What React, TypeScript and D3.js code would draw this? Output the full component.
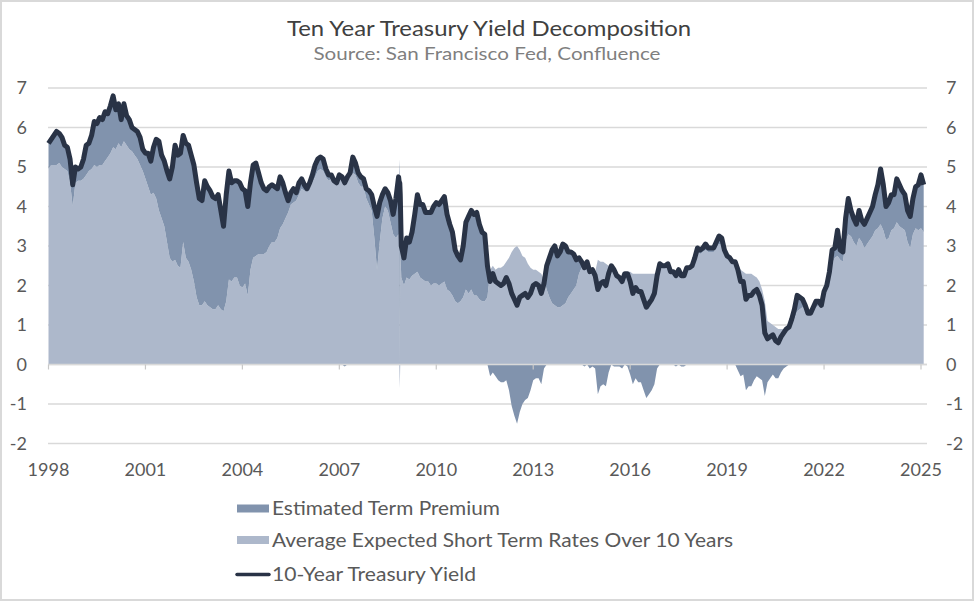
import React, { useRef, useEffect } from "react";
import * as d3 from "d3";

// monthly observations, first one is Jan 1998
const startYear = 1998;

const tenYearYield = [
  5.6, 5.7, 5.8, 5.9, 5.85, 5.75, 5.55, 5.5, 5.2, 4.55, 5.0, 4.95, // 1998
  5.0, 5.2, 5.55, 5.6, 5.8, 6.15, 6.1, 6.25, 6.2, 6.4, 6.35, 6.55, // 1999
  6.8, 6.45, 6.6, 6.2, 6.6, 6.3, 6.2, 6.0, 5.95, 5.9, 5.75, 5.45, // 2000
  5.35, 5.35, 5.15, 5.5, 5.7, 5.65, 5.3, 5.15, 4.9, 4.7, 5.0, 5.55, // 2001
  5.3, 5.35, 5.8, 5.6, 5.55, 5.3, 5.05, 4.6, 4.2, 4.15, 4.65, 4.5, // 2002
  4.4, 4.25, 4.2, 4.3, 3.9, 3.5, 4.3, 4.9, 4.6, 4.65, 4.65, 4.6, // 2003
  4.45, 4.4, 4.0, 4.6, 5.05, 5.1, 4.85, 4.6, 4.45, 4.4, 4.5, 4.55, // 2004
  4.5, 4.45, 4.75, 4.6, 4.35, 4.15, 4.35, 4.45, 4.35, 4.6, 4.7, 4.55, // 2005
  4.45, 4.6, 4.8, 5.05, 5.2, 5.25, 5.2, 4.95, 4.8, 4.8, 4.65, 4.6, // 2006
  4.8, 4.75, 4.6, 4.75, 4.85, 5.25, 5.1, 4.85, 4.75, 4.7, 4.45, 4.4, // 2007
  4.3, 4.0, 3.75, 4.1, 4.3, 4.45, 4.35, 4.15, 3.8, 4.2, 4.75, 3.0, // 2008
  2.7, 3.2, 3.1, 3.35, 3.8, 4.3, 4.05, 4.05, 3.85, 3.85, 3.85, 4.0, // 2009
  4.1, 4.05, 4.15, 4.25, 3.8, 3.55, 3.35, 2.9, 2.75, 2.65, 3.0, 3.6, // 2010
  3.75, 3.9, 3.8, 3.85, 3.55, 3.35, 3.3, 2.5, 2.1, 2.3, 2.1, 2.05, // 2011
  2.0, 2.05, 2.2, 2.05, 1.8, 1.65, 1.5, 1.7, 1.75, 1.8, 1.7, 1.8, // 2012
  2.0, 2.05, 2.0, 1.8, 2.05, 2.5, 2.7, 2.9, 3.0, 2.75, 2.85, 3.05, // 2013
  3.0, 2.85, 2.85, 2.8, 2.65, 2.7, 2.6, 2.45, 2.6, 2.35, 2.4, 2.25, // 2014
  1.9, 2.05, 2.1, 2.0, 2.3, 2.5, 2.4, 2.25, 2.2, 2.1, 2.3, 2.3, // 2015
  2.1, 1.8, 1.95, 1.85, 1.85, 1.65, 1.45, 1.55, 1.65, 1.8, 2.25, 2.55, // 2016
  2.5, 2.5, 2.55, 2.35, 2.35, 2.25, 2.4, 2.25, 2.25, 2.45, 2.45, 2.5, // 2017
  2.7, 2.95, 2.9, 2.95, 3.05, 2.95, 2.95, 2.95, 3.1, 3.25, 3.2, 2.9, // 2018
  2.75, 2.7, 2.6, 2.6, 2.4, 2.1, 2.1, 1.65, 1.75, 1.75, 1.85, 1.9, // 2019
  1.75, 1.5, 0.8, 0.65, 0.7, 0.75, 0.6, 0.55, 0.7, 0.8, 0.9, 0.95, // 2020
  1.15, 1.4, 1.75, 1.7, 1.65, 1.5, 1.3, 1.3, 1.45, 1.6, 1.6, 1.5, // 2021
  1.85, 2.0, 2.35, 2.9, 2.95, 3.4, 2.9, 2.85, 3.7, 4.2, 3.9, 3.7, // 2022
  3.55, 3.9, 3.65, 3.55, 3.7, 3.85, 4.0, 4.3, 4.55, 4.95, 4.55, 4.0, // 2023
  4.1, 4.3, 4.3, 4.7, 4.55, 4.4, 4.3, 3.9, 3.75, 4.2, 4.5, 4.55, // 2024
  4.8, 4.55, // 2025
];

const expectedShortRate = [
  4.95, 5.05, 5.05, 5.05, 5.1, 5.0, 4.95, 4.9, 4.6, 4.0, 4.6, 4.65, // 1998
  4.65, 4.7, 4.8, 4.9, 4.95, 5.05, 5.0, 5.05, 5.05, 5.15, 5.25, 5.35, // 1999
  5.5, 5.45, 5.6, 5.5, 5.65, 5.55, 5.45, 5.4, 5.3, 5.2, 5.05, 4.9, // 2000
  4.7, 4.5, 4.3, 4.35, 4.2, 3.9, 3.7, 3.5, 3.1, 2.7, 2.6, 2.65, // 2001
  2.5, 2.45, 3.1, 2.7, 2.6, 2.4, 2.1, 1.7, 1.5, 1.5, 1.6, 1.5, // 2002
  1.45, 1.4, 1.4, 1.5, 1.4, 1.35, 1.6, 2.15, 2.1, 2.2, 2.2, 2.0, // 2003
  1.95, 2.05, 1.75, 2.4, 2.7, 2.75, 2.8, 2.8, 2.8, 2.85, 3.0, 3.1, // 2004
  3.1, 3.2, 3.45, 3.55, 3.7, 3.85, 4.05, 4.1, 4.15, 4.3, 4.45, 4.4, // 2005
  4.4, 4.5, 4.6, 4.75, 4.9, 4.95, 4.9, 4.75, 4.65, 4.7, 4.6, 4.55, // 2006
  4.75, 4.7, 4.65, 4.7, 4.75, 4.85, 4.8, 4.6, 4.5, 4.5, 4.2, 4.05, // 2007
  3.9, 3.2, 2.4, 3.1, 3.7, 4.0, 3.9, 3.6, 3.3, 3.2, 3.3, 2.2, // 2008
  2.0, 2.2, 2.15, 2.25, 2.3, 2.35, 2.2, 2.15, 2.1, 2.1, 2.0, 2.05, // 2009
  2.05, 2.0, 2.05, 2.1, 1.9, 1.85, 1.75, 1.6, 1.55, 1.6, 1.7, 1.9, // 2010
  1.8, 1.9, 1.75, 1.75, 1.65, 1.6, 1.6, 1.7, 2.4, 2.5, 2.4, 2.45, // 2011
  2.45, 2.5, 2.6, 2.7, 2.85, 2.95, 3.0, 2.9, 2.75, 2.7, 2.55, 2.45, // 2012
  2.4, 2.4, 2.35, 2.3, 2.15, 1.9, 1.7, 1.55, 1.5, 1.45, 1.45, 1.5, // 2013
  1.55, 1.7, 1.8, 1.9, 2.0, 2.3, 2.45, 2.5, 2.55, 2.45, 2.45, 2.35, // 2014
  2.65, 2.6, 2.6, 2.55, 2.5, 2.45, 2.45, 2.3, 2.25, 2.2, 2.3, 2.35, // 2015
  2.35, 2.3, 2.3, 2.3, 2.3, 2.3, 2.3, 2.3, 2.3, 2.3, 2.35, 2.5, // 2016
  2.45, 2.45, 2.5, 2.35, 2.35, 2.3, 2.35, 2.3, 2.3, 2.4, 2.4, 2.45, // 2017
  2.6, 2.85, 2.8, 2.85, 2.9, 2.85, 2.85, 2.85, 2.95, 3.05, 3.05, 2.8, // 2018
  2.7, 2.65, 2.6, 2.6, 2.55, 2.4, 2.35, 2.3, 2.3, 2.3, 2.25, 2.2, // 2019
  2.1, 1.9, 1.6, 1.1, 1.05, 1.0, 0.95, 0.9, 0.9, 0.9, 0.95, 0.95, // 2020
  1.05, 1.15, 1.35, 1.4, 1.45, 1.4, 1.25, 1.25, 1.35, 1.45, 1.5, 1.45, // 2021
  1.7, 1.85, 2.2, 2.55, 2.7, 2.75, 2.65, 2.6, 3.1, 3.3, 3.25, 3.1, // 2022
  3.0, 3.2, 3.1, 2.95, 3.05, 3.15, 3.25, 3.4, 3.45, 3.55, 3.4, 3.15, // 2023
  3.2, 3.4, 3.45, 3.6, 3.5, 3.45, 3.4, 3.1, 2.95, 3.3, 3.45, 3.4, // 2024
  3.45, 3.35, // 2025
];

// single-day outlier in the model estimates, late 2008
const outlierDays = [
  { t: 2008.855, yld: 4.6, exp: 3.2 },
  { t: 2008.87, yld: 4.6, exp: -0.6 },
  { t: 2008.885, yld: 4.3, exp: 3.0 },
];

const yearTicks = [1998, 2001, 2004, 2007, 2010, 2013, 2016, 2019, 2022, 2025];
const valueTicks = [-2, -1, 0, 1, 2, 3, 4, 5, 6, 7];

const legendLabels = [
  "Estimated Term Premium",
  "Average Expected Short Term Rates Over 10 Years",
  "10-Year Treasury Yield",
];

const W = 975;
const H = 602;
const FONT = "Lato, 'Open Sans', sans-serif";
const C_LIGHT = "#adb8cb";
const C_DARK = "#8193ad";
const C_LINE = "#293346";

const App = () => {
  const svgRef = useRef(null);

  useEffect(() => {
    const svg = d3.select(svgRef.current);
    svg.selectChildren().remove();

    const x = d3.scaleLinear().domain([1998, 2025]).range([48.5, 921]);
    const y = d3.scaleLinear().domain([-2, 7]).range([443.5, 88]);

    // build rows and split into positive / negative stacks
    const rows = tenYearYield
      .map((v, i) => ({ t: startYear + i / 12, yld: v, exp: expectedShortRate[i] }))
      .concat(outlierDays)
      .sort((a, b) => a.t - b.t)
      .map(d => {
        const tp = d.yld - d.exp;
        const ePos = Math.max(d.exp, 0);
        const eNeg = Math.min(d.exp, 0);
        return {
          t: d.t,
          yld: d.yld,
          ePos,
          eNeg,
          tpPos: ePos + Math.max(tp, 0),
          tpNeg: eNeg + Math.min(tp, 0),
        };
      });

    // frame
    svg.append("rect")
      .attr("x", 1).attr("y", 1)
      .attr("width", W - 3).attr("height", H - 3)
      .attr("fill", "#fff")
      .attr("stroke", "#d9d9d9")
      .attr("stroke-width", 2);

    // titles
    svg.append("text")
      .attr("x", 489).attr("y", 36)
      .attr("text-anchor", "middle")
      .attr("font-family", FONT)
      .attr("font-size", 21)
      .attr("fill", "#404040")
      .attr("textLength", 404)
      .attr("lengthAdjust", "spacingAndGlyphs")
      .text("Ten Year Treasury Yield Decomposition");
    svg.append("text")
      .attr("x", 487).attr("y", 60)
      .attr("text-anchor", "middle")
      .attr("font-family", FONT)
      .attr("font-size", 17.5)
      .attr("fill", "#7f7f7f")
      .attr("textLength", 347)
      .attr("lengthAdjust", "spacingAndGlyphs")
      .text("Source: San Francisco Fed, Confluence");

    // horizontal gridlines
    svg.append("g")
      .selectAll("line")
      .data(valueTicks)
      .join("line")
      .attr("x1", 48).attr("x2", 927)
      .attr("y1", d => y(d)).attr("y2", d => y(d))
      .attr("stroke", "#d9d9d9")
      .attr("stroke-width", 1.5);

    const plot = svg.append("g");
    const band = (lo, hi) => d3.area()
      .x(d => x(d.t))
      .y0(d => y(lo(d)))
      .y1(d => y(hi(d)));

    plot.append("path").datum(rows).attr("fill", C_LIGHT)
      .attr("d", band(() => 0, d => d.ePos));
    plot.append("path").datum(rows).attr("fill", C_LIGHT)
      .attr("d", band(() => 0, d => d.eNeg));
    plot.append("path").datum(rows).attr("fill", C_DARK)
      .attr("d", band(d => d.ePos, d => d.tpPos));
    plot.append("path").datum(rows).attr("fill", C_DARK)
      .attr("d", band(d => d.eNeg, d => d.tpNeg));

    // category axis at zero with tick marks every three years
    svg.append("line")
      .attr("x1", 48).attr("x2", 927)
      .attr("y1", y(0)).attr("y2", y(0))
      .attr("stroke", "#d9d9d9").attr("stroke-width", 1.5);
    svg.append("g")
      .selectAll("line")
      .data(yearTicks)
      .join("line")
      .attr("x1", d => x(d)).attr("x2", d => x(d))
      .attr("y1", y(0)).attr("y2", y(0) + 5)
      .attr("stroke", "#c8c8c8").attr("stroke-width", 1.2);

    // yield line
    plot.append("path").datum(rows)
      .attr("fill", "none")
      .attr("stroke", C_LINE)
      .attr("stroke-width", 5)
      .attr("stroke-linejoin", "round")
      .attr("d", d3.line().x(d => x(d.t)).y(d => y(d.yld)));

    // value labels on both sides
    const labels = svg.append("g")
      .attr("font-family", FONT)
      .attr("font-size", 18)
      .attr("fill", "#595959");
    labels.selectAll("text.l")
      .data(valueTicks)
      .join("text")
      .attr("class", "l")
      .attr("x", 27).attr("y", d => y(d))
      .attr("dy", "0.36em")
      .attr("text-anchor", "end")
      .text(d => d);
    labels.selectAll("text.r")
      .data(valueTicks)
      .join("text")
      .attr("class", "r")
      .attr("x", 946).attr("y", d => y(d))
      .attr("dy", "0.36em")
      .attr("text-anchor", "start")
      .text(d => d);
    labels.selectAll("text.x")
      .data(yearTicks)
      .join("text")
      .attr("class", "x")
      .attr("x", d => x(d)).attr("y", 476)
      .attr("text-anchor", "middle")
      .text(d => d);

    // legend
    const legend = svg.append("g")
      .attr("font-family", FONT)
      .attr("font-size", 19)
      .attr("fill", "#595959");
    const rowY = [508.5, 540, 574.5];
    legend.append("rect").attr("x", 237).attr("y", rowY[0] - 4).attr("width", 32).attr("height", 8).attr("fill", C_DARK);
    legend.append("rect").attr("x", 237).attr("y", rowY[1] - 4).attr("width", 32).attr("height", 8).attr("fill", C_LIGHT);
    legend.append("line")
      .attr("x1", 237).attr("x2", 269)
      .attr("y1", rowY[2]).attr("y2", rowY[2])
      .attr("stroke", C_LINE).attr("stroke-width", 3.5)
      .attr("stroke-linecap", "round");
    const widths = [228, 461, 204];
    legend.selectAll("text")
      .data(legendLabels)
      .join("text")
      .attr("x", 272)
      .attr("y", (d, i) => rowY[i])
      .attr("dy", "0.35em")
      .attr("textLength", (d, i) => widths[i])
      .attr("lengthAdjust", "spacingAndGlyphs")
      .text(d => d);
  }, []);

  return (
    <div style={{ position: "absolute", left: 0, top: 0 }}>
      <svg ref={svgRef} width={W} height={H}></svg>
    </div>
  );
};

export default App;
